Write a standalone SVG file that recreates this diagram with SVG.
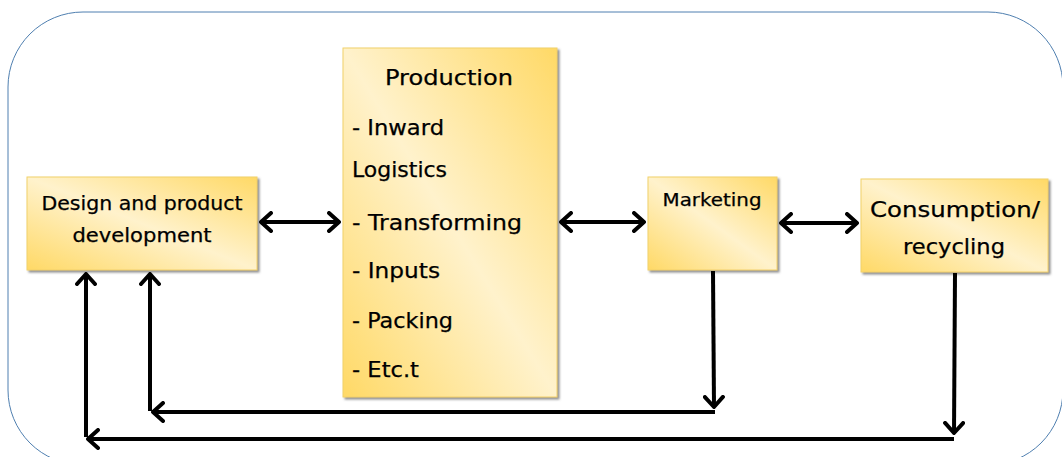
<svg xmlns="http://www.w3.org/2000/svg" width="1062" height="457" viewBox="0 0 1062 457">
<defs>
<linearGradient id="g" x1="0" y1="1" x2="1" y2="0">
<stop offset="0" stop-color="#FFD966"/>
<stop offset="0.5" stop-color="#FFF2CC"/>
<stop offset="1" stop-color="#FFD966"/>
</linearGradient>
<filter id="sh" x="-5%" y="-5%" width="115%" height="115%">
<feDropShadow dx="2" dy="2" stdDeviation="0.8" flood-color="#808080" flood-opacity="0.9"/>
</filter>
<marker id="ah" viewBox="0 0 14 22" refX="12" refY="11" markerWidth="14" markerHeight="22" markerUnits="userSpaceOnUse" orient="auto-start-reverse">
<path d="M2 2 L12 11 L2 20" fill="none" stroke="#000" stroke-width="4" stroke-linecap="round" stroke-linejoin="round"/>
</marker>
</defs>
<style>
.box{fill:url(#g);stroke:#F2D16B;stroke-width:1;filter:url(#sh)}
.t{font-family:"DejaVu Sans","Noto Sans",sans-serif;fill:#000;stroke:#000;stroke-width:0.25}
.c{stroke:#000;stroke-width:4;fill:none}
</style>
<rect x="8" y="12" width="1055" height="453" rx="75" ry="75" fill="#fff" stroke="#4F7FB0" stroke-width="1"/>
<g id="design">
<rect class="box" x="27" y="177" width="230" height="93"/>
<text class="t" x="142" y="210" font-size="19" text-anchor="middle" textLength="201" lengthAdjust="spacingAndGlyphs">Design and product</text>
<text class="t" x="142" y="242" font-size="19" text-anchor="middle" textLength="139" lengthAdjust="spacingAndGlyphs">development</text>
</g>
<g id="production">
<rect class="box" x="343" y="48" width="214" height="349"/>
<text class="t" x="449" y="85" font-size="21" text-anchor="middle" textLength="128" lengthAdjust="spacingAndGlyphs">Production</text>
<text class="t" x="352" y="135" font-size="21" textLength="92" lengthAdjust="spacingAndGlyphs">- Inward</text>
<text class="t" x="352" y="177" font-size="21" textLength="95" lengthAdjust="spacingAndGlyphs">Logistics</text>
<text class="t" x="352" y="230" font-size="21" textLength="170" lengthAdjust="spacingAndGlyphs">- Transforming</text>
<text class="t" x="352" y="278" font-size="21" textLength="88" lengthAdjust="spacingAndGlyphs">- Inputs</text>
<text class="t" x="352" y="328" font-size="21" textLength="101" lengthAdjust="spacingAndGlyphs">- Packing</text>
<text class="t" x="352" y="377" font-size="21" textLength="67" lengthAdjust="spacingAndGlyphs">- Etc.t</text>
</g>
<g id="marketing">
<rect class="box" x="648" y="177" width="129" height="93"/>
<text class="t" x="712" y="206" font-size="17" text-anchor="middle" textLength="99" lengthAdjust="spacingAndGlyphs">Marketing</text>
</g>
<g id="consumption">
<rect class="box" x="861" y="179" width="187" height="93"/>
<text class="t" x="955" y="217" font-size="21" text-anchor="middle" textLength="170" lengthAdjust="spacingAndGlyphs">Consumption/</text>
<text class="t" x="954" y="254" font-size="21" text-anchor="middle" textLength="102" lengthAdjust="spacingAndGlyphs">recycling</text>
</g>
<g id="connectors">
<line class="c" x1="261" y1="222" x2="339" y2="222" marker-start="url(#ah)" marker-end="url(#ah)"/>
<line class="c" x1="561" y1="222" x2="644" y2="222" marker-start="url(#ah)" marker-end="url(#ah)"/>
<line class="c" x1="781" y1="223" x2="857" y2="223" marker-start="url(#ah)" marker-end="url(#ah)"/>
<line class="c" x1="713" y1="271" x2="714" y2="407" marker-end="url(#ah)"/>
<line class="c" x1="715" y1="412" x2="153" y2="412" marker-end="url(#ah)"/>
<line class="c" x1="150" y1="411" x2="150" y2="274" marker-end="url(#ah)"/>
<line class="c" x1="955" y1="273" x2="954" y2="433" marker-end="url(#ah)"/>
<line class="c" x1="954" y1="439" x2="88" y2="439" marker-end="url(#ah)"/>
<line class="c" x1="86" y1="437" x2="86" y2="274" marker-end="url(#ah)"/>
</g>
</svg>
